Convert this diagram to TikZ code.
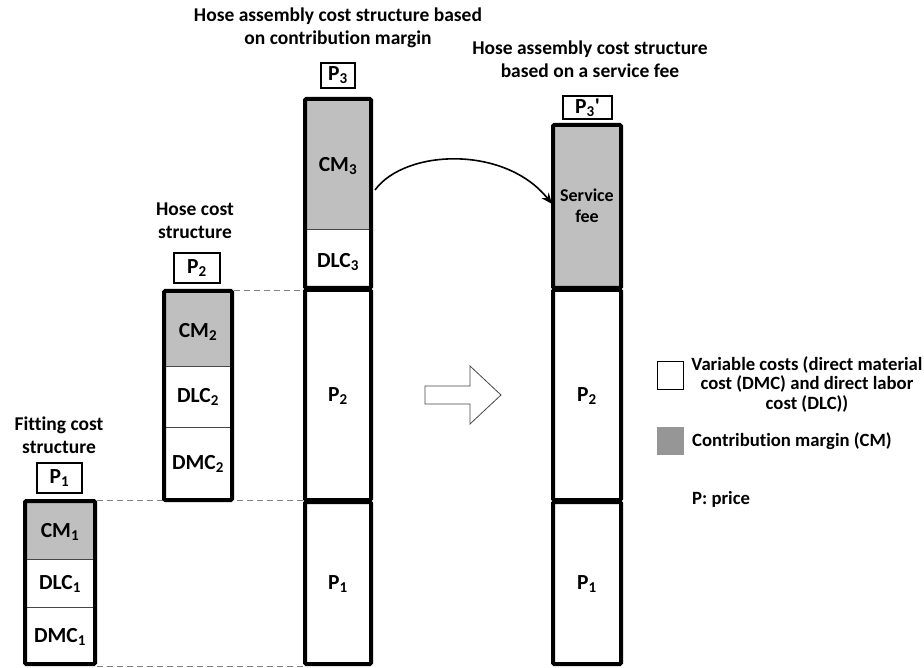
\documentclass[tikz,border=0pt]{standalone}
\usepackage{fontspec}
\setmainfont{Carlito}[Ligatures={TeX,NoCommon}]
\usetikzlibrary{arrows.meta}

\definecolor{cmgray}{RGB}{191,191,191}
\definecolor{keygray}{RGB}{150,150,150}
\definecolor{guidegray}{RGB}{128,128,128}
\definecolor{splitgray}{RGB}{70,70,70}
\definecolor{hollowedge}{RGB}{70,70,70}

\begin{document}
\begin{tikzpicture}[
  x=1pt, y=-1pt,
  txt/.style={font=\bfseries\fontsize{19.5}{23}\selectfont, inner sep=0pt, align=center},
  cell/.style={font=\bfseries\fontsize{21.5}{24}\selectfont, inner sep=0pt, align=center},
  keytxt/.style={font=\bfseries\fontsize{18.7}{19.5}\selectfont, inner sep=0pt, align=center},
  barframe/.style={draw=black, line width=4pt, rounded corners=1.2pt},
  split/.style={draw=splitgray, line width=1pt},
  pricebox/.style={draw=black, line width=1.1pt},
  guide/.style={draw=guidegray, line width=0.9pt, dash pattern=on 6pt off 4pt},
  swing/.style={draw=black, line width=1.6pt, -{Stealth[length=11pt,width=9pt]}},
  hollow/.style={draw=hollowedge, line width=0.8pt, fill=white, line join=miter},
]
\path[use as bounding box] (0,0) rectangle (924,668);

% dashed guide lines linking the price levels
\draw[guide] (97,500) -- (303,500);
\draw[guide] (234,290) -- (303,290);
\draw[guide] (97,666) -- (303,666);

% ---- fitting cost structure
\fill[cmgray] (25,501) rectangle (95,559);
\draw[split] (25,559) -- (95,559);
\draw[split] (25,607) -- (95,607);
\draw[barframe] (25,501) rectangle (95,664);
\draw[pricebox] (37,463) rectangle (82,493);
\node[cell] (p1lbl) at (59.5,478) {P\textsubscript{1}};
\node[txt] (fittitle) at (59,435) {Fitting cost\\structure};
\node[cell] (cm1) at (60,532) {CM\textsubscript{1}};
\node[cell] (dlc1) at (60,584) {DLC\textsubscript{1}};
\node[cell] (dmc1) at (60,637) {DMC\textsubscript{1}};

% ---- hose cost structure
\fill[white] (164,291) rectangle (232,500);
\fill[cmgray] (164,291) rectangle (232,367);
\draw[split] (164,367) -- (232,367);
\draw[split] (164,427) -- (232,427);
\draw[barframe] (164,291) rectangle (232,500);
\draw[pricebox] (174,253) rectangle (220,283);
\node[cell] (p2lbl) at (197,268) {P\textsubscript{2}};
\node[txt] (hosetitle) at (195,221) {Hose cost\\structure};
\node[cell] (cm2) at (198,332) {CM\textsubscript{2}};
\node[cell] (dlc2) at (198,397) {DLC\textsubscript{2}};
\node[cell] (dmc2) at (198,464) {DMC\textsubscript{2}};

% ---- hose assembly, contribution margin based
\fill[cmgray] (305,99) rectangle (371,230);
\draw[split] (305,230) -- (371,230);
\draw[barframe] (305,99) rectangle (371,288);
\draw[barframe] (305,290) rectangle (371,500);
\draw[barframe] (305,502) rectangle (371,664);
\draw[pricebox] (321,63) rectangle (355,88);
\node[cell] (p3lbl) at (338,75.5) {P\textsubscript{3}};
\node[txt] (cmtitle) at (338,28) {Hose assembly cost structure based\\on contribution margin};
\node[cell] (cm3) at (338,166) {CM\textsubscript{3}};
\node[cell] (dlc3) at (338,262) {DLC\textsubscript{3}};
\node[cell] (p2a) at (338,396) {P\textsubscript{2}};
\node[cell] (p1a) at (338,584) {P\textsubscript{1}};

% ---- hose assembly, service fee based
\fill[cmgray] (553,125) rectangle (621,288);
\draw[barframe] (553,125) rectangle (621,288);
\draw[barframe] (553,290) rectangle (621,500);
\draw[barframe] (553,502) rectangle (621,664);
\draw[pricebox] (563,96) rectangle (612,119);
\node[cell] (p3plbl) at (587.5,107.5) {P\textsubscript{3}\textquotesingle};
\node[txt] (feetitle) at (590,59) {Hose assembly cost structure\\based on a service fee};
\node[txt, font=\bfseries\fontsize{18}{21}\selectfont] (fee) at (587,206) {Service\\fee};
\node[cell] (p2b) at (587,396) {P\textsubscript{2}};
\node[cell] (p1b) at (587,584) {P\textsubscript{1}};

% curved arrow: margin turns into the service fee
\coordinate (arcS) at (375,190);
\coordinate (arcE) at (552,204);
\draw[swing] (arcS) .. controls (405,149) and (505,145) .. (arcE);

% hollow block arrow between the two assembly structures
\draw[hollow] (425,386) -- (470,386) -- (470,366) -- (501,395)
  -- (470,424) -- (470,404) -- (425,404) -- cycle;

% ---- key
\draw[draw=black, line width=1pt, fill=white] (657,362) rectangle (683,389);
\fill[keygray] (657,427) rectangle (684,455);
\node[keytxt] (keyvar) at (807,384)
  {Variable costs (direct material\\cost (DMC) and direct labor\\cost (DLC))};
\node[keytxt, anchor=west] (keycm) at (692,441) {Contribution margin (CM)};
\node[keytxt, anchor=west] (keyp) at (692,499) {P: price};
\end{tikzpicture}
\end{document}
